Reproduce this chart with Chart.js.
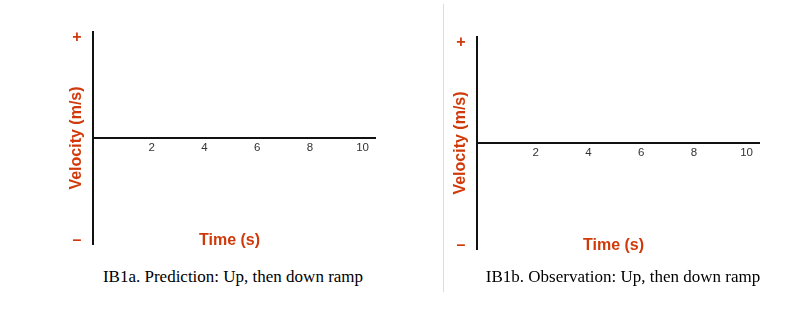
<!DOCTYPE html>
<html><head><meta charset="utf-8">
<script src="https://cdn.jsdelivr.net/npm/chart.js@4"></script>
<style>
html,body{margin:0;padding:0;background:#fff;overflow:hidden;width:802px;height:327px;}
canvas{position:absolute;}
.cap{position:absolute;font-family:"Liberation Serif","Times New Roman",serif;font-size:17px;line-height:20px;color:#000;text-align:center;white-space:nowrap;}
.sep{position:absolute;left:443px;top:4px;width:1px;height:288px;background:#dcdcdc;}
</style></head><body>
<canvas id="c1" width="410" height="260" style="left:0;top:0"></canvas>
<canvas id="c2" width="410" height="260" style="left:384px;top:5px"></canvas>
<div class="sep"></div>
<div class="cap" id="cap1" style="left:93px;top:267px;width:280px"></div>
<div class="cap" id="cap2" style="left:483px;top:267px;width:280px"></div>
<script>
// ---- data ----
const xTickValues = [2, 4, 6, 8, 10];
const yTickValues = [0.95, -0.97];
const yTickLabels = ['+', '\u2013'];
const xRange = [0, 10.7];
const yRange = [-1, 1];
const xTitle = 'Time (s)';
const yTitle = 'Velocity (m/s)';
const captions = ['IB1a. Prediction: Up, then down ramp', 'IB1b. Observation: Up, then down ramp'];
const predictionValues = [];   // left blank in the worksheet
const observationValues = [];  // left blank in the worksheet

const RED = '#d03a0a';

const shiftTitle = {
  id: 'shiftTitle',
  afterLayout(chart) { chart.scales.x2.right -= 9; }
};

function noPad(s) { s.paddingTop = 0; s.paddingBottom = 0; s.paddingLeft = 0; s.paddingRight = 0; }

function makeChart(id, values, label) {
  return new Chart(document.getElementById(id), {
    type: 'line',
    data: { datasets: [{ label, data: values, borderColor: '#000' }] },
    options: {
      responsive: false, animation: false, devicePixelRatio: 1,
      layout: { padding: { left: 60, top: 32, right: 35, bottom: 0 } },
      plugins: { legend: { display: false }, tooltip: { enabled: false } },
      scales: {
        y: {
          type: 'linear', position: 'left', min: yRange[0], max: yRange[1],
          grid: { display: false, drawTicks: false },
          border: { display: true, color: '#111', width: 2 },
          afterBuildTicks: s => { s.ticks = yTickValues.map(v => ({ value: v })); },
          afterFit: s => { s.width = 33; noPad(s); },
          ticks: {
            padding: 11.5, color: RED,
            font: { family: 'Liberation Sans, Arial, sans-serif', size: 16, weight: 'bold' },
            callback: (v, i) => yTickLabels[i]
          },
          title: {
            display: true, text: yTitle, color: RED, padding: { top: 7, bottom: 0 },
            font: { family: 'Liberation Sans, Arial, sans-serif', size: 16, weight: 'bold' }
          }
        },
        x: {
          type: 'linear', position: { y: 0 }, min: xRange[0], max: xRange[1],
          grid: { display: false, drawTicks: false },
          border: { display: true, color: '#111', width: 2 },
          afterBuildTicks: s => { s.ticks = xTickValues.map(v => ({ value: v })); },
          afterFit: s => { noPad(s); },
          ticks: {
            padding: 2.5, labelOffset: 6, color: '#333', maxRotation: 0,
            font: { family: 'Liberation Sans, Arial, sans-serif', size: 11.5 }
          }
        },
        x2: {
          type: 'linear', position: 'bottom', min: xRange[0], max: xRange[1],
          grid: { display: false, drawTicks: false }, border: { display: false },
          ticks: { display: false },
          afterFit: s => { s.height = 16; noPad(s); },
          title: {
            display: true, text: xTitle, color: RED, padding: { top: 0, bottom: 10 },
            font: { family: 'Liberation Sans, Arial, sans-serif', size: 16, weight: 'bold' }
          }
        }
      }
    },
    plugins: [shiftTitle]
  });
}

makeChart('c1', predictionValues, 'Prediction');
makeChart('c2', observationValues, 'Observation');
document.getElementById('cap1').textContent = captions[0];
document.getElementById('cap2').textContent = captions[1];
</script>
</body></html>
